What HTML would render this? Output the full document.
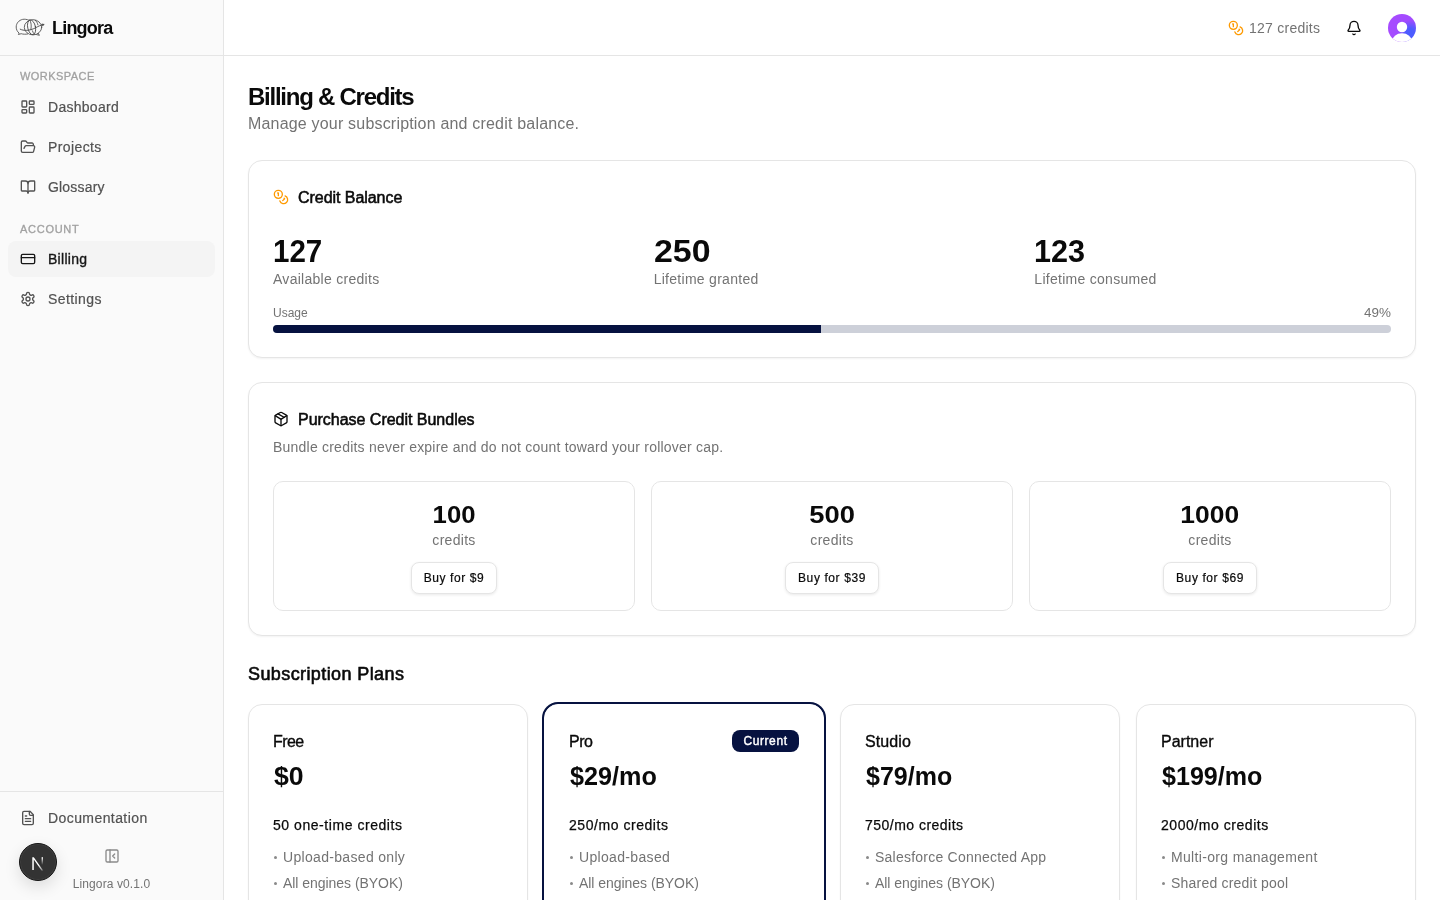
<!DOCTYPE html>
<html>
<head>
<meta charset="utf-8">
<style>
*{box-sizing:border-box;margin:0;padding:0}
html,body{width:1440px;height:900px;overflow:hidden;background:#fff}
body{font-family:"Liberation Sans",sans-serif;color:#0a0a0a;position:relative;-webkit-font-smoothing:antialiased}
.abs{position:absolute}
#root{position:absolute;left:0;top:0;width:1440px;height:900px;will-change:transform;overflow:hidden}
svg{display:block}
/* sidebar */
#sb{position:absolute;left:0;top:0;width:224px;height:900px;background:#fafafa;border-right:1px solid #e5e5e5}
#sbhead{position:absolute;left:0;top:0;width:223px;height:56px;border-bottom:1px solid #e5e5e5}
.logo-t{position:absolute;left:52px;top:17px;font-size:18px;line-height:22px;font-weight:700;letter-spacing:-0.8px;color:#0a0a0a}
.lbl{position:absolute;left:20px;font-size:11px;line-height:16px;color:#a1a1a1;font-weight:400;-webkit-text-stroke:0.3px #a1a1a1}
.nav{position:absolute;left:8px;width:207px;height:36px;border-radius:8px;color:#525252;font-size:14px;line-height:20px}
.nav svg{position:absolute;left:12px;top:10px}
.nav span{position:absolute;left:40px;top:8px;letter-spacing:0.28px;-webkit-text-stroke:0.2px currentColor}
.nav.act{background:#f4f4f4;color:#171717}
.nav.act span{-webkit-text-stroke:0.35px #171717}
#sbfoot{position:absolute;left:0;top:791px;width:223px;border-top:1px solid #e5e5e5;height:109px}
/* header */
#hdr{position:absolute;left:224px;top:0;width:1216px;height:56px;border-bottom:1px solid #e5e5e5;background:#fff}
/* main */
.h1{position:absolute;left:248px;top:81px;font-size:24px;line-height:32px;font-weight:700;letter-spacing:-1.25px}
.sub{position:absolute;left:248px;top:112px;font-size:16px;line-height:24px;color:#737373;letter-spacing:0.19px}
.card{position:absolute;left:248px;width:1168px;border:1px solid #e5e5e5;border-radius:14px;background:#fff;box-shadow:0 1px 2px rgba(0,0,0,0.05)}
.ctitle{position:absolute;left:49px;font-size:16px;line-height:24px;font-weight:400;-webkit-text-stroke:0.55px #0a0a0a;letter-spacing:-0.05px}
.stat{position:absolute;top:73px}
.stat .n{font-size:30px;line-height:36px;font-weight:700}
.sx{display:inline-block;transform-origin:left}
.stat .l{font-size:14px;line-height:20px;color:#737373;letter-spacing:0.28px;margin-top:-1px}
.bundle{position:absolute;top:98px;width:362px;height:130px;border:1px solid #e5e5e5;border-radius:10px;text-align:center}
.bundle .n{margin-top:16px;font-size:24px;line-height:32px;font-weight:700;position:relative;top:1px}
.bundle .l{font-size:14px;line-height:20px;color:#737373;letter-spacing:0.3px}
.btn{display:inline-block;margin-top:12px;height:32px;border:1px solid #e5e5e5;border-radius:8px;padding:0 12px;font-size:12px;line-height:30px;font-weight:400;-webkit-text-stroke:0.2px #0a0a0a;letter-spacing:0.6px;box-shadow:0 1px 3px rgba(0,0,0,0.09);background:#fff;color:#0a0a0a}
.plan{position:absolute;top:704px;width:280px;height:230px;border:1px solid #e5e5e5;border-radius:14px;background:#fff;box-shadow:0 1px 2px rgba(0,0,0,0.05)}
.plan.cur{border-color:#fff;box-shadow:0 0 0 2px #061240}
.plan .nm{position:absolute;left:24px;top:25px;font-size:16px;line-height:24px;font-weight:400;-webkit-text-stroke:0.35px #0a0a0a;letter-spacing:-0.3px}
.plan .pr{position:absolute;left:25px;top:55px;font-size:24px;line-height:32px;font-weight:700}
.plan .cr{position:absolute;left:24px;top:110px;font-size:14px;line-height:20px;font-weight:400;-webkit-text-stroke:0.25px #0a0a0a;letter-spacing:0.4px}
.plan .bl{position:absolute;left:24px;font-size:14px;line-height:20px;color:#737373;white-space:nowrap}
.plan .bl i{display:inline-block;width:3px;height:3px;border-radius:50%;background:#8a8a8a;vertical-align:middle;margin:0 6px 0 1px;position:relative;top:-1px}
.badge{position:absolute;right:24px;top:25px;height:22px;width:67px;border-radius:8px;background:#061240;color:#fff;font-size:12px;line-height:22px;font-weight:400;-webkit-text-stroke:0.4px #fff;letter-spacing:0.6px;text-align:center}
</style>
</head>
<body>
<div id="root">
<!-- SIDEBAR -->
<div id="sb">
  <div id="sbhead">
    <svg class="abs" style="left:14px;top:17px" width="32" height="20" viewBox="0 0 32 20" fill="none" stroke="#4a4a4a" stroke-width="0.85" stroke-linecap="round" stroke-linejoin="round">
      <path d="M14.6 3.1C12.8 2.3 10.6 2 8.6 2.4 4.9 3.2 2.2 6.3 2.2 10c0 2.5 1.1 4.6 2.9 6.1L4.4 17.5 7.2 16.7c1.9.6 4.2.7 6.4.3"/>
      <ellipse cx="19" cy="10.3" rx="8.7" ry="7.6"/>
      <path d="M24.3 16.4L25.4 18.3 22.6 17.6"/>
      <ellipse cx="17.6" cy="10.3" rx="3.9" ry="7.5" transform="rotate(-12 17.6 10.3)"/>
      <path d="M15.6 2.8C17.3 5 17.6 9 16.9 12.4M21.2 3.2C22.6 4.4 23.5 6 23.9 7.8M18.4 13.8C18.9 15.3 19.6 16.4 20.4 17.3"/>
      <path d="M6.2 12.2C9.5 14 15.5 14 21.5 10.8 24.5 9.2 27 8 29.3 7.6" stroke-width="0.9"/>
      <path d="M28.2 7.1L30.2 7.5 28.8 8.6z" fill="#5a5a5a"/>
    </svg>
    <div class="logo-t">Lingora</div>
  </div>
  <div class="lbl" style="top:68px;letter-spacing:0.45px">WORKSPACE</div>
  <div class="nav" style="top:89px">
    <svg width="16" height="16" viewBox="0 0 24 24" fill="none" stroke="currentColor" stroke-width="2" stroke-linecap="round" stroke-linejoin="round"><rect width="7" height="9" x="3" y="3" rx="1"/><rect width="7" height="5" x="14" y="3" rx="1"/><rect width="7" height="9" x="14" y="12" rx="1"/><rect width="7" height="5" x="3" y="16" rx="1"/></svg>
    <span>Dashboard</span>
  </div>
  <div class="nav" style="top:129px">
    <svg width="16" height="16" viewBox="0 0 24 24" fill="none" stroke="currentColor" stroke-width="2" stroke-linecap="round" stroke-linejoin="round"><path d="m6 14 1.5-2.9A2 2 0 0 1 9.24 10H20a2 2 0 0 1 1.94 2.5l-1.54 6a2 2 0 0 1-1.95 1.5H4a2 2 0 0 1-2-2V5a2 2 0 0 1 2-2h3.9a2 2 0 0 1 1.69.9l.81 1.2a2 2 0 0 0 1.67.9H18a2 2 0 0 1 2 2v2"/></svg>
    <span style="letter-spacing:0.39px">Projects</span>
  </div>
  <div class="nav" style="top:169px">
    <svg width="16" height="16" viewBox="0 0 24 24" fill="none" stroke="currentColor" stroke-width="2" stroke-linecap="round" stroke-linejoin="round"><path d="M12 7v14"/><path d="M3 18a1 1 0 0 1-1-1V4a1 1 0 0 1 1-1h5a4 4 0 0 1 4 4 4 4 0 0 1 4-4h5a1 1 0 0 1 1 1v13a1 1 0 0 1-1 1h-6a3 3 0 0 0-3 3 3 3 0 0 0-3-3z"/></svg>
    <span style="letter-spacing:0.18px">Glossary</span>
  </div>
  <div class="lbl" style="top:221px;letter-spacing:0.72px">ACCOUNT</div>
  <div class="nav act" style="top:241px">
    <svg width="16" height="16" viewBox="0 0 24 24" fill="none" stroke="currentColor" stroke-width="2" stroke-linecap="round" stroke-linejoin="round"><rect width="20" height="14" x="2" y="5" rx="2"/><line x1="2" x2="22" y1="10" y2="10"/></svg>
    <span>Billing</span>
  </div>
  <div class="nav" style="top:281px">
    <svg width="16" height="16" viewBox="0 0 24 24" fill="none" stroke="currentColor" stroke-width="2" stroke-linecap="round" stroke-linejoin="round"><path d="M12.22 2h-.44a2 2 0 0 0-2 2v.18a2 2 0 0 1-1 1.73l-.43.25a2 2 0 0 1-2 0l-.15-.08a2 2 0 0 0-2.73.73l-.22.38a2 2 0 0 0 .73 2.73l.15.1a2 2 0 0 1 1 1.72v.51a2 2 0 0 1-1 1.74l-.15.09a2 2 0 0 0-.73 2.73l.22.38a2 2 0 0 0 2.73.73l.15-.08a2 2 0 0 1 2 0l.43.25a2 2 0 0 1 1 1.73V20a2 2 0 0 0 2 2h.44a2 2 0 0 0 2-2v-.18a2 2 0 0 1 1-1.73l.43-.25a2 2 0 0 1 2 0l.15.08a2 2 0 0 0 2.73-.73l.22-.39a2 2 0 0 0-.73-2.73l-.15-.08a2 2 0 0 1-1-1.74v-.5a2 2 0 0 1 1-1.74l.15-.09a2 2 0 0 0 .73-2.73l-.22-.38a2 2 0 0 0-2.73-.73l-.15.08a2 2 0 0 1-2 0l-.43-.25a2 2 0 0 1-1-1.73V4a2 2 0 0 0-2-2z"/><circle cx="12" cy="12" r="3"/></svg>
    <span style="letter-spacing:0.42px">Settings</span>
  </div>
  <div id="sbfoot">
    <div class="nav" style="top:8px">
      <svg width="16" height="16" viewBox="0 0 24 24" fill="none" stroke="currentColor" stroke-width="2" stroke-linecap="round" stroke-linejoin="round"><path d="M15 2H6a2 2 0 0 0-2 2v16a2 2 0 0 0 2 2h12a2 2 0 0 0 2-2V7Z"/><path d="M14 2v4a2 2 0 0 0 2 2h4"/><path d="M10 9H8"/><path d="M16 13H8"/><path d="M16 17H8"/></svg>
      <span style="letter-spacing:0.42px">Documentation</span>
    </div>
    <svg class="abs" style="left:104px;top:56px" width="16" height="16" viewBox="0 0 24 24" fill="none" stroke="#8a8a8a" stroke-width="2" stroke-linecap="round" stroke-linejoin="round"><rect width="18" height="18" x="3" y="3" rx="2"/><path d="M9 3v18"/><path d="m16 15-3-3 3-3"/></svg>
    <div class="abs" style="left:0;width:223px;top:84px;text-align:center;font-size:12px;line-height:16px;color:#737373;letter-spacing:0.1px">Lingora v0.1.0</div>
  </div>
</div>
<!-- Next badge -->
<div class="abs" style="left:19px;top:843px;width:38px;height:38px;border-radius:50%;background:#333;border:1px solid #151515;box-shadow:0 6px 16px rgba(0,0,0,0.12),0 0 0 1px rgba(255,255,255,0.06) inset">
  <svg class="abs" style="left:11px;top:12px" width="15" height="15" viewBox="0 0 15 15"><defs><linearGradient id="ng" x1="0" y1="0" x2="0" y2="1"><stop offset="0" stop-color="#fff"/><stop offset="0.9" stop-color="#fff" stop-opacity="0"/></linearGradient><linearGradient id="ng2" x1="0" y1="0" x2="1" y2="1"><stop offset="0.6" stop-color="#fff"/><stop offset="1" stop-color="#fff" stop-opacity="0.3"/></linearGradient></defs><path d="M1.3 1.2h1.5l9.4 13.3H10.5L2.8 3.5V14H1.3z" fill="url(#ng2)"/><rect x="10.6" y="1.2" width="1.4" height="8.5" fill="url(#ng)"/></svg>
</div>
<!-- HEADER -->
<div id="hdr">
  <svg class="abs" style="left:1004px;top:20px" width="16" height="16" viewBox="0 0 24 24" fill="none" stroke="#fe9a00" stroke-width="2" stroke-linecap="round" stroke-linejoin="round"><circle cx="8" cy="8" r="6"/><path d="M18.09 10.37A6 6 0 1 1 10.34 18"/><path d="M7 6h1v4"/><path d="m16.71 13.88.7.71-2.82 2.82"/></svg>
  <div class="abs" style="left:1025px;top:18px;font-size:14px;line-height:20px;color:#737373;letter-spacing:0.25px">127 credits</div>
  <svg class="abs" style="left:1122px;top:20px" width="16" height="16" viewBox="0 0 24 24" fill="none" stroke="#0a0a0a" stroke-width="2" stroke-linecap="round" stroke-linejoin="round"><path d="M10.268 21a2 2 0 0 0 3.464 0"/><path d="M3.262 15.326A1 1 0 0 0 4 17h16a1 1 0 0 0 .74-1.673C19.41 13.956 18 12.499 18 8A6 6 0 0 0 6 8c0 4.499-1.411 5.956-2.738 7.326"/></svg>
  <svg class="abs" style="left:1164px;top:14px" width="28" height="28" viewBox="0 0 28 28"><defs><radialGradient id="av" cx="0.82" cy="0.68" r="0.75" fx="0.8" fy="0.68"><stop offset="0.05" stop-color="#4a5cff"/><stop offset="0.22" stop-color="#4f5bff"/><stop offset="0.62" stop-color="#a24bff"/><stop offset="1" stop-color="#a64bff"/></radialGradient><clipPath id="avc"><circle cx="14" cy="14" r="14"/></clipPath></defs><circle cx="14" cy="14" r="14" fill="url(#av)"/><g clip-path="url(#avc)" fill="#fff"><circle cx="14" cy="13" r="5.2"/><ellipse cx="14" cy="27.6" rx="10" ry="8.3"/></g></svg>
</div>

<!-- MAIN -->
<div class="h1">Billing &amp; Credits</div>
<div class="sub">Manage your subscription and credit balance.</div>

<div class="card" style="top:160px;height:198px">
  <svg class="abs" style="left:24px;top:28px" width="16" height="16" viewBox="0 0 24 24" fill="none" stroke="#fe9a00" stroke-width="2" stroke-linecap="round" stroke-linejoin="round"><circle cx="8" cy="8" r="6"/><path d="M18.09 10.37A6 6 0 1 1 10.34 18"/><path d="M7 6h1v4"/><path d="m16.71 13.88.7.71-2.82 2.82"/></svg>
  <div class="ctitle" style="top:25px">Credit Balance</div>
  <div class="stat" style="left:24px"><div class="n"><span class="sx" style="transform:scale(0.985,1.06);transform-origin:0 28.4px">127</span></div><div class="l">Available credits</div></div>
  <div class="stat" style="left:404.67px"><div class="n"><span class="sx" style="transform:scale(1.13,1.06);transform-origin:0 28.4px">250</span></div><div class="l">Lifetime granted</div></div>
  <div class="stat" style="left:785.33px"><div class="n"><span class="sx" style="transform:scale(1.02,1.06);transform-origin:0 28.4px">123</span></div><div class="l">Lifetime consumed</div></div>
  <div class="abs" style="left:24px;top:144px;font-size:12px;line-height:16px;color:#737373">Usage</div>
  <div class="abs" style="right:24px;top:144px;font-size:12px;line-height:16px;color:#737373"><span class="sx" style="transform:scaleX(1.12);transform-origin:right">49%</span></div>
  <div class="abs" style="left:24px;top:164px;width:1118px;height:8px;border-radius:4px;background:#cdd0d9;overflow:hidden"><div style="width:49%;height:8px;background:#061240;border-radius:0"></div></div>
</div>

<div class="card" style="top:382px;height:254px">
  <svg class="abs" style="left:24px;top:28px" width="16" height="16" viewBox="0 0 24 24" fill="none" stroke="#0a0a0a" stroke-width="2" stroke-linecap="round" stroke-linejoin="round"><path d="M11 21.73a2 2 0 0 0 2 0l7-4A2 2 0 0 0 21 16V8a2 2 0 0 0-1-1.73l-7-4a2 2 0 0 0-2 0l-7 4A2 2 0 0 0 3 8v8a2 2 0 0 0 1 1.73z"/><path d="M12 22V12"/><path d="m3.3 7 7.703 4.734a2 2 0 0 0 1.994 0L20.7 7"/><path d="m7.5 4.27 9 5.15"/></svg>
  <div class="ctitle" style="top:25px;letter-spacing:-0.02px">Purchase Credit Bundles</div>
  <div class="abs" style="left:24px;top:54px;font-size:14px;line-height:20px;color:#737373;letter-spacing:0.22px">Bundle credits never expire and do not count toward your rollover cap.</div>
  <div class="bundle" style="left:24px"><div class="n"><span class="sx" style="transform:scaleX(1.07);transform-origin:center">100</span></div><div class="l">credits</div><div class="btn">Buy for $9</div></div>
  <div class="bundle" style="left:402px"><div class="n"><span class="sx" style="transform:scaleX(1.14);transform-origin:center">500</span></div><div class="l">credits</div><div class="btn">Buy for $39</div></div>
  <div class="bundle" style="left:780px"><div class="n"><span class="sx" style="transform:scaleX(1.1);transform-origin:center">1000</span></div><div class="l">credits</div><div class="btn">Buy for $69</div></div>
</div>

<div class="abs" style="left:248px;top:660px;font-size:18px;line-height:28px;font-weight:400;-webkit-text-stroke:0.6px #0a0a0a;letter-spacing:0.4px">Subscription Plans</div>

<div class="plan" style="left:248px">
  <div class="nm" style="letter-spacing:-0.6px">Free</div>
  <div class="pr"><span class="sx" style="transform:translateY(0.6px) scale(1.11,1.04);transform-origin:0 24.3px">$0</span></div>
  <div class="cr" style="letter-spacing:0.55px">50 one-time credits</div>
  <div class="bl" style="top:142px;letter-spacing:0.32px"><i></i>Upload-based only</div>
  <div class="bl" style="top:168px;letter-spacing:-0.04px"><i></i>All engines (BYOK)</div>
</div>
<div class="plan cur" style="left:544px">
  <div class="nm" style="letter-spacing:-0.5px">Pro</div>
  <div class="badge">Current</div>
  <div class="pr"><span class="sx" style="transform:translateY(0.6px) scale(1.05,1.04);transform-origin:0 24.3px">$29/mo</span></div>
  <div class="cr" style="letter-spacing:0.55px">250/mo credits</div>
  <div class="bl" style="top:142px;letter-spacing:0.33px"><i></i>Upload-based</div>
  <div class="bl" style="top:168px;letter-spacing:-0.04px"><i></i>All engines (BYOK)</div>
</div>
<div class="plan" style="left:840px">
  <div class="nm" style="letter-spacing:0.1px">Studio</div>
  <div class="pr"><span class="sx" style="transform:translateY(0.6px) scale(1.042,1.04);transform-origin:0 24.3px">$79/mo</span></div>
  <div class="cr" style="letter-spacing:0.48px">750/mo credits</div>
  <div class="bl" style="top:142px;letter-spacing:0.23px"><i></i>Salesforce Connected App</div>
  <div class="bl" style="top:168px;letter-spacing:-0.04px"><i></i>All engines (BYOK)</div>
</div>
<div class="plan" style="left:1136px">
  <div class="nm" style="letter-spacing:0px">Partner</div>
  <div class="pr"><span class="sx" style="transform:translateY(0.6px) scale(1.045,1.04);transform-origin:0 24.3px">$199/mo</span></div>
  <div class="cr" style="letter-spacing:0.55px">2000/mo credits</div>
  <div class="bl" style="top:142px;letter-spacing:0.33px"><i></i>Multi-org management</div>
  <div class="bl" style="top:168px;letter-spacing:0.21px"><i></i>Shared credit pool</div>
</div>
</div>
</body>
</html>
